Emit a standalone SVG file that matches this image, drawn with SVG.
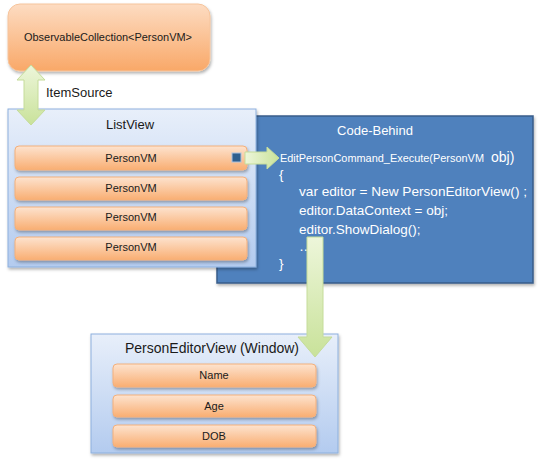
<svg xmlns="http://www.w3.org/2000/svg" width="540" height="465" viewBox="0 0 540 465">
<defs>
<linearGradient id="og" x1="0" y1="0" x2="0" y2="1"><stop offset="0" stop-color="#fde3cf"/><stop offset="1" stop-color="#f9ae72"/></linearGradient>
<linearGradient id="og2" x1="0" y1="0" x2="0" y2="1"><stop offset="0" stop-color="#fddcc2"/><stop offset="1" stop-color="#f9a868"/></linearGradient>
<linearGradient id="bg" x1="0" y1="0" x2="0" y2="1"><stop offset="0" stop-color="#e8effa"/><stop offset="1" stop-color="#b3cbef"/></linearGradient>
<linearGradient id="gg" x1="0" y1="0" x2="1" y2="0"><stop offset="0" stop-color="#edf6da"/><stop offset="1" stop-color="#c9e29a"/></linearGradient>
<linearGradient id="ggv" x1="0" y1="0" x2="0" y2="1"><stop offset="0" stop-color="#edf6da"/><stop offset="1" stop-color="#c9e29a"/></linearGradient>
<filter id="sh" x="-10%" y="-10%" width="120%" height="130%"><feDropShadow dx="1" dy="2" stdDeviation="1.5" flood-color="#000" flood-opacity="0.3"/></filter>
</defs>
<style>
text{font-family:"Liberation Sans",Arial,sans-serif;fill:#1a1a1a}
.row{fill:url(#og);stroke:#f3b07c;stroke-width:1}
.lbl{font-size:11px;text-anchor:middle}
.code{fill:#ffffff;font-size:13.5px}
.arr{stroke:#c5dc9a;stroke-width:1}
.panel{fill:url(#bg);stroke:#8db0dd;stroke-width:1}
</style>

<g id="code-behind">
<rect x="217" y="116" width="316" height="167" fill="#4f81bd" stroke="#385d8a" stroke-width="1.5" filter="url(#sh)"/>
<text x="375" y="135" text-anchor="middle" style="fill:#ffffff;font-size:13px">Code-Behind</text>
<text x="280" y="162" style="fill:#ffffff;font-size:11px" textLength="204" lengthAdjust="spacingAndGlyphs">EditPersonCommand_Execute(PersonVM</text>
<text x="491" y="162" style="fill:#ffffff;font-size:14px">obj)</text>
<text x="279" y="179" class="code">{</text>
<text x="299" y="196" class="code" textLength="228" lengthAdjust="spacingAndGlyphs">var editor = New PersonEditorView() ;</text>
<text x="299" y="215" class="code">editor.DataContext = obj;</text>
<text x="299" y="234" class="code">editor.ShowDialog();</text>
<text x="299" y="251" class="code">…</text>
<text x="279" y="268" class="code">}</text>
</g>

<g id="observable-collection">
<rect x="8" y="4" width="202" height="67" rx="12" fill="url(#og2)" stroke="#f6c49c" stroke-width="1" filter="url(#sh)"/>
<text x="108" y="41" class="lbl" textLength="168" lengthAdjust="spacingAndGlyphs">ObservableCollection&lt;PersonVM&gt;</text>
</g>

<g id="listview">
<rect x="8" y="109" width="248" height="158" class="panel" filter="url(#sh)"/>
<text x="130" y="129" text-anchor="middle" style="font-size:13px">ListView</text>
<rect x="15" y="146" width="232" height="24" rx="4" class="row" filter="url(#sh)"/>
<text x="131" y="162" class="lbl">PersonVM</text>
<rect x="232" y="153" width="9" height="9" fill="#2f5f8e" stroke="#a9c2df" stroke-width="1"/>
<rect x="15" y="177" width="232" height="23" rx="4" class="row" filter="url(#sh)"/>
<text x="131" y="192" class="lbl">PersonVM</text>
<rect x="15" y="207" width="232" height="23" rx="4" class="row" filter="url(#sh)"/>
<text x="131" y="221" class="lbl">PersonVM</text>
<rect x="15" y="237" width="232" height="23" rx="4" class="row" filter="url(#sh)"/>
<text x="131" y="251" class="lbl">PersonVM</text>
</g>

<g id="person-editor-view">
<rect x="91" y="334" width="247" height="119" class="panel" filter="url(#sh)"/>
<text x="212" y="353" text-anchor="middle" style="font-size:14px">PersonEditorView (Window)</text>
<rect x="113" y="364" width="203" height="23" rx="4" class="row" filter="url(#sh)"/>
<text x="214" y="379" class="lbl">Name</text>
<rect x="113" y="395" width="203" height="22" rx="4" class="row" filter="url(#sh)"/>
<text x="214" y="410" class="lbl">Age</text>
<rect x="113" y="425" width="203" height="22" rx="4" class="row" filter="url(#sh)"/>
<text x="214" y="440" class="lbl">DOB</text>
</g>

<g id="connectors">
<polygon class="arr" fill="url(#ggv)" points="31,65 45,80 38,80 38,110 45,110 31,125 17,110 24,110 24,80 17,80"/>
<text x="46" y="97" style="font-size:13px">ItemSource</text>
<polygon class="arr" fill="url(#gg)" points="245,152 267,152 267,147 279,158 267,169 267,164 245,164"/>
<polygon class="arr" fill="url(#ggv)" points="307,237 323,237 323,337 332,337 315,357 298,337 307,337"/>
</g>
</svg>
